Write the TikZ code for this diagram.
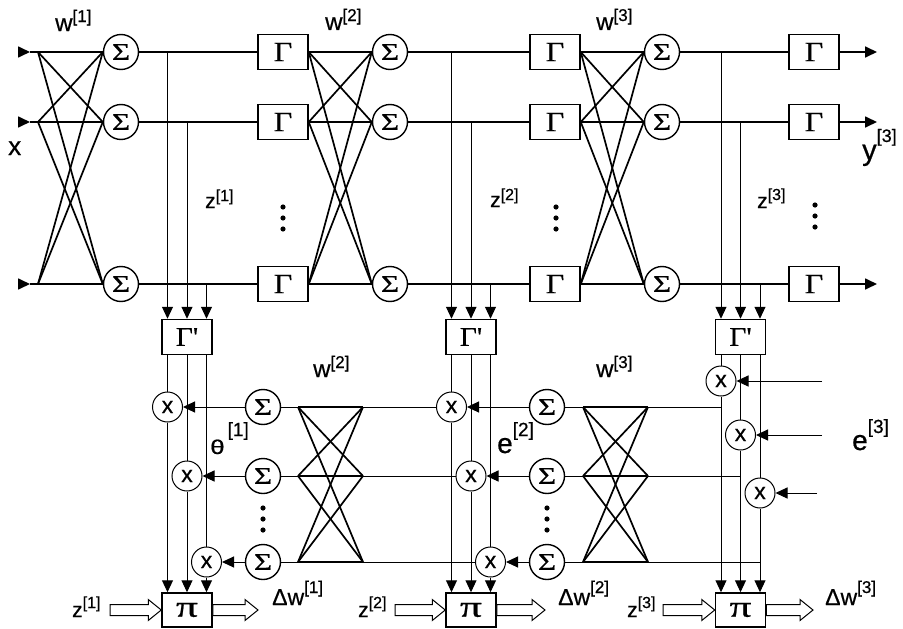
\documentclass[tikz,border=0pt]{standalone}
\usepackage{fontspec}
\setmainfont[FakeBold=0.6,AutoFakeBold=0.6]{Liberation Sans}
\newfontfamily\serifgr[FakeBold=0.5]{Liberation Serif}
\usetikzlibrary{arrows.meta,calc}
\newcommand{\fs}[1]{\fontsize{#1}{#1}\selectfont}
% base text, index, base size, raise, sup size
\newcommand{\ml}[5]{{\fs{#3}#1}\raisebox{#4pt}{\fs{#5}[#2]}}
\newcommand{\hollowarrow}[2]{%
  \draw[hollow] ($(#1)+(0,-5.5)$) -- ($(#2)+(-13,-5.5)$) -- ($(#2)+(-13,-10.5)$) -- (#2)
   -- ($(#2)+(-13,10.5)$) -- ($(#2)+(-13,5.5)$) -- ($(#1)+(0,5.5)$) -- cycle;}
\newcommand{\SIG}{\scalebox{1.3}[1]{Σ}}
\newcommand{\GAM}{\scalebox{1.15}[1]{Γ}}
\newcommand{\GAMP}{\scalebox{1.1}[1]{Γ'}}
\newcommand{\PIE}{\scalebox{1.45}[1]{π}}
\begin{document}
\begin{tikzpicture}[x=1pt,y=-1pt,
  thick line/.style={line width=1.7pt},
  thin line/.style={line width=1.0pt},
  hollow/.style={line width=1.0pt,fill=white,line join=miter},
  sumnode/.style={circle,draw,line width=1.4pt,fill=white,minimum size=35pt,inner sep=0pt,font=\serifgr\fs{24}},
  mulnode/.style={circle,draw,line width=1.0pt,fill=white,minimum size=30pt,inner sep=0pt,font=\fs{23}},
  gbox/.style={draw,line width=1.5pt,fill=white,minimum width=50pt,minimum height=35pt,inner sep=0pt,font=\serifgr\fs{28}},
  pbox/.style={draw,line width=1.5pt,fill=white,minimum width=50pt,minimum height=34pt,inner sep=0pt,font=\serifgr\fs{30}},
  tri/.style={-{Triangle[length=12pt,width=11pt]}},
  lbl/.style={inner sep=0pt,anchor=base west}
]
\useasboundingbox (0,0) rectangle (903,629);

% ---------------- top forward layers ----------------
\foreach \i/\y in {1/52,2/122,3/284}{
  \node[sumnode] (sa\i) at (121,\y) {\SIG};
  \node[gbox] (ga\i) at (283,\y) {\GAM};
  \node[sumnode] (sb\i) at (390,\y) {\SIG};
  \node[gbox] (gb\i) at (555,\y) {\GAM};
  \node[sumnode] (sc\i) at (662,\y) {\SIG};
  \node[gbox] (gc\i) at (814,\y) {\GAM};
  \coordinate (in\i) at (18,\y);
  \coordinate (ia\i) at (30,\y);
  \coordinate (xa\i) at (38,\y);
  \coordinate (out\i) at (877,\y);
}
\foreach \i in {1,2,3}{
  \draw[tri,thick line] (in\i) -- (ia\i);
  \draw[thick line] (ia\i) -- (xa\i);
  \foreach \j in {1,2,3}{
    \draw[thick line] (xa\i) -- (sa\j.west);
    \draw[thick line] (ga\i.east) -- (sb\j.west);
    \draw[thick line] (gb\i.east) -- (sc\j.west);
  }
  \draw[thick line] (sa\i) -- (ga\i);
  \draw[thick line] (sb\i) -- (gb\i);
  \draw[thick line] (sc\i) -- (gc\i);
  \draw[tri,thick line] (gc\i) -- (out\i);
}

% ---------------- derivative boxes and product boxes ----------------
\node[gbox,font=\serifgr\fs{27}] (gpa) at (187,337) {\GAMP};
\node[gbox,font=\serifgr\fs{27}] (gpb) at (471,337) {\GAMP};
\node[gbox,font=\serifgr\fs{27}] (gpc) at (740.5,337) {\GAMP};
\node[pbox] (pa) at (187,610) {\PIE};
\node[pbox] (pb) at (471,610) {\PIE};
\node[pbox] (pc) at (740.5,610) {\PIE};

% multipliers
\node[mulnode] (ma1) at (167.5,407) {x};
\node[mulnode] (ma2) at (187,476) {x};
\node[mulnode] (ma3) at (206.5,562) {x};
\node[mulnode] (mb1) at (451.5,407) {x};
\node[mulnode] (mb2) at (471,476) {x};
\node[mulnode] (mb3) at (490.5,562) {x};
\node[mulnode] (mc1) at (721,381) {x};
\node[mulnode] (mc2) at (740.5,435) {x};
\node[mulnode] (mc3) at (760,493) {x};

% lower sums
\foreach \i/\y in {1/407,2/476,3/562}{
  \node[sumnode] (la\i) at (263,\y) {\SIG};
  \node[sumnode] (lb\i) at (547,\y) {\SIG};
  \coordinate (na\i) at (298,\y);
  \coordinate (nar\i) at (363,\y);
  \coordinate (nb\i) at (583,\y);
  \coordinate (nbr\i) at (648,\y);
}

% taps from forward rows
\foreach \c/\p/\s in {a/gpa/sa, b/gpb/sb, c/gpc/sc}{
  \foreach \i in {1,2,3}{
    \coordinate (t\c\i) at (m\c\i |- \s\i);
    \draw[tri,thin line] (t\c\i) -- (t\c\i |- \p.north);
  }
}
% verticals below the derivative boxes
\foreach \c/\p/\q in {a/gpa/pa, b/gpb/pb, c/gpc/pc}{
  \foreach \i in {1,2,3}{
    \draw[thin line] (m\c\i |- \p.south) -- (m\c\i.north);
    \draw[tri,thin line] (m\c\i.south) -- (m\c\i |- \q.north);
  }
}

% lower backward networks
\foreach \i in {1,2,3}{
  \draw[thin line] (la\i) -- (na\i);
  \draw[thin line] (lb\i) -- (nb\i);
  \foreach \j in {1,2,3}{
    \draw[thick line] (na\i) -- (nar\j);
    \draw[thick line] (nb\i) -- (nbr\j);
  }
  \draw[thin line] (nar\i) -- (mb\i.west);
  \draw[thin line] (nbr\i) -- (mc\i |- nbr\i);
  \draw[tri,thin line] (la\i.west) -- (ma\i.east);
  \draw[tri,thin line] (lb\i.west) -- (mb\i.east);
}
% external errors e[3]
\coordinate (e1) at (822,381);
\coordinate (e2) at (822,435);
\coordinate (e3) at (817,493);
\foreach \i in {1,2,3}{
  \draw[tri,thin line] (e\i) -- (mc\i.east);
}

% vertical dots
\foreach \x/\y in {283/207, 556/207, 815/205, 263/508, 547/508}{
  \fill (\x,\y) circle (2.6) (\x,\y+11) circle (2.6) (\x,\y+22) circle (2.6);
}

% hollow arrows
\coordinate (ha1) at (110,610);
\coordinate (hb1) at (395,610);
\coordinate (hc1) at (663,610);
\coordinate (ha2) at (258,610);
\coordinate (hb2) at (545,610);
\coordinate (hc2) at (813,610);
\hollowarrow{ha1}{pa.west}
\hollowarrow{hb1}{pb.west}
\hollowarrow{hc1}{pc.west}
\hollowarrow{pa.east}{ha2}
\hollowarrow{pb.east}{hb2}
\hollowarrow{pc.east}{hc2}

% labels
\node[lbl] (lw1) at (55,31) {\ml{w}{1}{24}{9}{17}};
\node[lbl] (lw2) at (325,30) {\ml{w}{2}{24}{9}{17}};
\node[lbl] (lw3) at (596,30) {\ml{w}{3}{24}{9}{17}};
\node[lbl] (lx) at (8,155) {\fs{26}x};
\node[lbl] (ly) at (862,160) {\ml{y}{3}{29}{18}{18}};
\node[lbl] (lz1) at (205,208) {\ml{z}{1}{21}{7}{16}};
\node[lbl] (lz2) at (490,207) {\ml{z}{2}{21}{7}{16}};
\node[lbl] (lz3) at (757,208) {\ml{z}{3}{21}{8}{16}};
\node[lbl] (le1) at (210,454) {\ml{\scalebox{1.3}[1]{θ}\hspace{3pt}}{1}{20}{18}{19}};
\node[lbl] (le2) at (497,453) {\ml{e}{2}{28}{17}{19}};
\node[lbl] (le3) at (852,450) {\ml{e}{3}{28}{17}{19}};
\node[lbl] (lw2b) at (313,377) {\ml{w}{2}{24}{9}{17}};
\node[lbl] (lw3b) at (596,377) {\ml{w}{3}{24}{9}{17}};
\node[lbl] (lzb1) at (72,617) {\ml{z}{1}{21}{9}{16}};
\node[lbl] (lzb2) at (358,617) {\ml{z}{2}{21}{9}{16}};
\node[lbl] (lzb3) at (627,617) {\ml{z}{3}{21}{9}{16}};
\node[lbl] (ld1) at (272,605) {\ml{Δw}{1}{23}{12}{17}};
\node[lbl] (ld2) at (558,605) {\ml{Δw}{2}{23}{12}{17}};
\node[lbl] (ld3) at (825,605) {\ml{Δw}{3}{23}{12}{17}};
\end{tikzpicture}
\end{document}
